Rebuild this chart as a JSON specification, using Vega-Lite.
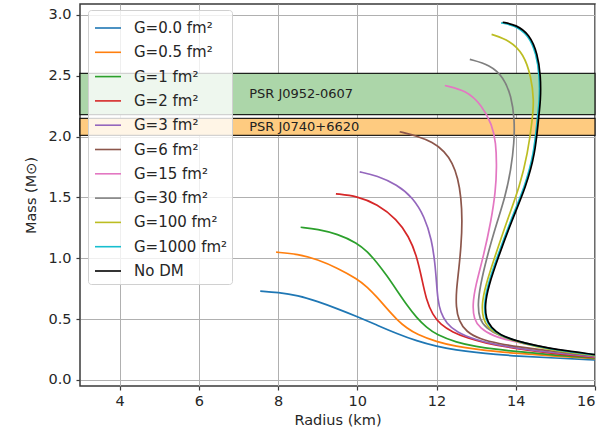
{
  "$schema": "https://vega.github.io/schema/vega-lite/v6.json",
  "autosize": {"type": "none"},
  "padding": {"left": 80, "top": 4, "right": 20, "bottom": 49},
  "width": 515,
  "height": 382,
  "background": "white",
  "config": {
    "font": "DejaVu Sans",
    "view": {"stroke": "#3a3a3a", "strokeWidth": 1.5},
    "axis": {
      "domain": false,
      "grid": true,
      "gridColor": "#b0b0b0",
      "gridWidth": 1,
      "tickColor": "#3a3a3a",
      "tickSize": 4,
      "tickWidth": 1.2,
      "labelFont": "DejaVu Sans",
      "labelFontSize": 14.5,
      "labelColor": "#262626",
      "titleFont": "DejaVu Sans",
      "titleFontSize": 14.5,
      "titleFontWeight": "normal",
      "titleColor": "#262626"
    }
  },
  "datasets": {
    "bands": [
      {"name": "PSR J0952-0607", "lo": 2.18, "hi": 2.52, "mid": 2.35},
      {"name": "PSR J0740+6620", "lo": 2.01, "hi": 2.15, "mid": 2.08}
    ],
    "curves": [
      {"s": "G=0.0 fm²", "i": 0, "r": 7.55, "m": 0.73},
      {"s": "G=0.0 fm²", "i": 1, "r": 8.0, "m": 0.72},
      {"s": "G=0.0 fm²", "i": 2, "r": 8.5, "m": 0.695},
      {"s": "G=0.0 fm²", "i": 3, "r": 9.0, "m": 0.645},
      {"s": "G=0.0 fm²", "i": 4, "r": 9.5, "m": 0.585},
      {"s": "G=0.0 fm²", "i": 5, "r": 10.0, "m": 0.52},
      {"s": "G=0.0 fm²", "i": 6, "r": 10.5, "m": 0.45},
      {"s": "G=0.0 fm²", "i": 7, "r": 11.0, "m": 0.38},
      {"s": "G=0.0 fm²", "i": 8, "r": 11.5, "m": 0.32},
      {"s": "G=0.0 fm²", "i": 9, "r": 12.0, "m": 0.275},
      {"s": "G=0.0 fm²", "i": 10, "r": 12.5, "m": 0.245},
      {"s": "G=0.0 fm²", "i": 11, "r": 13.0, "m": 0.225},
      {"s": "G=0.0 fm²", "i": 12, "r": 13.5, "m": 0.21},
      {"s": "G=0.0 fm²", "i": 13, "r": 14.0, "m": 0.197},
      {"s": "G=0.0 fm²", "i": 14, "r": 15.0, "m": 0.18},
      {"s": "G=0.0 fm²", "i": 15, "r": 16.0, "m": 0.165},

      {"s": "G=0.5 fm²", "i": 0, "r": 7.95, "m": 1.05},
      {"s": "G=0.5 fm²", "i": 1, "r": 8.5, "m": 1.035},
      {"s": "G=0.5 fm²", "i": 2, "r": 9.0, "m": 0.99},
      {"s": "G=0.5 fm²", "i": 3, "r": 9.5, "m": 0.92},
      {"s": "G=0.5 fm²", "i": 4, "r": 10.0, "m": 0.83},
      {"s": "G=0.5 fm²", "i": 5, "r": 10.25, "m": 0.765},
      {"s": "G=0.5 fm²", "i": 6, "r": 10.5, "m": 0.68},
      {"s": "G=0.5 fm²", "i": 7, "r": 10.75, "m": 0.585},
      {"s": "G=0.5 fm²", "i": 8, "r": 11.0, "m": 0.495},
      {"s": "G=0.5 fm²", "i": 9, "r": 11.25, "m": 0.425},
      {"s": "G=0.5 fm²", "i": 10, "r": 11.5, "m": 0.375},
      {"s": "G=0.5 fm²", "i": 11, "r": 12.0, "m": 0.312},
      {"s": "G=0.5 fm²", "i": 12, "r": 12.5, "m": 0.275},
      {"s": "G=0.5 fm²", "i": 13, "r": 13.0, "m": 0.252},
      {"s": "G=0.5 fm²", "i": 14, "r": 13.5, "m": 0.234},
      {"s": "G=0.5 fm²", "i": 15, "r": 14.0, "m": 0.219},
      {"s": "G=0.5 fm²", "i": 16, "r": 15.0, "m": 0.195},
      {"s": "G=0.5 fm²", "i": 17, "r": 16.0, "m": 0.175},

      {"s": "G=1 fm²", "i": 0, "r": 8.57, "m": 1.255},
      {"s": "G=1 fm²", "i": 1, "r": 9.0, "m": 1.24},
      {"s": "G=1 fm²", "i": 2, "r": 9.5, "m": 1.2},
      {"s": "G=1 fm²", "i": 3, "r": 10.0, "m": 1.125},
      {"s": "G=1 fm²", "i": 4, "r": 10.25, "m": 1.055},
      {"s": "G=1 fm²", "i": 5, "r": 10.5, "m": 0.965},
      {"s": "G=1 fm²", "i": 6, "r": 10.75, "m": 0.855},
      {"s": "G=1 fm²", "i": 7, "r": 11.0, "m": 0.735},
      {"s": "G=1 fm²", "i": 8, "r": 11.25, "m": 0.615},
      {"s": "G=1 fm²", "i": 9, "r": 11.5, "m": 0.51},
      {"s": "G=1 fm²", "i": 10, "r": 11.75, "m": 0.43},
      {"s": "G=1 fm²", "i": 11, "r": 12.0, "m": 0.372},
      {"s": "G=1 fm²", "i": 12, "r": 12.5, "m": 0.308},
      {"s": "G=1 fm²", "i": 13, "r": 13.0, "m": 0.274},
      {"s": "G=1 fm²", "i": 14, "r": 13.5, "m": 0.252},
      {"s": "G=1 fm²", "i": 15, "r": 14.0, "m": 0.234},
      {"s": "G=1 fm²", "i": 16, "r": 15.0, "m": 0.203},
      {"s": "G=1 fm²", "i": 17, "r": 16.0, "m": 0.18},

      {"s": "G=2 fm²", "i": 0, "r": 9.46, "m": 1.53},
      {"s": "G=2 fm²", "i": 1, "r": 10.0, "m": 1.51},
      {"s": "G=2 fm²", "i": 2, "r": 10.5, "m": 1.445},
      {"s": "G=2 fm²", "i": 3, "r": 11.0, "m": 1.32},
      {"s": "G=2 fm²", "i": 4, "r": 11.3, "m": 1.18},
      {"s": "G=2 fm²", "i": 5, "r": 11.5, "m": 1.02},
      {"s": "G=2 fm²", "i": 6, "r": 11.63, "m": 0.83},
      {"s": "G=2 fm²", "i": 7, "r": 11.74, "m": 0.66},
      {"s": "G=2 fm²", "i": 8, "r": 11.9, "m": 0.535},
      {"s": "G=2 fm²", "i": 9, "r": 12.1, "m": 0.455},
      {"s": "G=2 fm²", "i": 10, "r": 12.4, "m": 0.392},
      {"s": "G=2 fm²", "i": 11, "r": 12.8, "m": 0.342},
      {"s": "G=2 fm²", "i": 12, "r": 13.2, "m": 0.305},
      {"s": "G=2 fm²", "i": 13, "r": 14.0, "m": 0.256},
      {"s": "G=2 fm²", "i": 14, "r": 15.0, "m": 0.215},
      {"s": "G=2 fm²", "i": 15, "r": 16.0, "m": 0.185},

      {"s": "G=3 fm²", "i": 0, "r": 10.06, "m": 1.71},
      {"s": "G=3 fm²", "i": 1, "r": 10.5, "m": 1.68},
      {"s": "G=3 fm²", "i": 2, "r": 11.0, "m": 1.605},
      {"s": "G=3 fm²", "i": 3, "r": 11.4, "m": 1.5},
      {"s": "G=3 fm²", "i": 4, "r": 11.7, "m": 1.34},
      {"s": "G=3 fm²", "i": 5, "r": 11.88, "m": 1.15},
      {"s": "G=3 fm²", "i": 6, "r": 11.96, "m": 0.96},
      {"s": "G=3 fm²", "i": 7, "r": 12.0, "m": 0.8},
      {"s": "G=3 fm²", "i": 8, "r": 12.03, "m": 0.665},
      {"s": "G=3 fm²", "i": 9, "r": 12.1, "m": 0.555},
      {"s": "G=3 fm²", "i": 10, "r": 12.25, "m": 0.465},
      {"s": "G=3 fm²", "i": 11, "r": 12.5, "m": 0.393},
      {"s": "G=3 fm²", "i": 12, "r": 13.0, "m": 0.327},
      {"s": "G=3 fm²", "i": 13, "r": 13.5, "m": 0.29},
      {"s": "G=3 fm²", "i": 14, "r": 14.0, "m": 0.262},
      {"s": "G=3 fm²", "i": 15, "r": 15.0, "m": 0.222},
      {"s": "G=3 fm²", "i": 16, "r": 16.0, "m": 0.19},

      {"s": "G=6 fm²", "i": 0, "r": 11.07, "m": 2.04},
      {"s": "G=6 fm²", "i": 1, "r": 11.5, "m": 2.005},
      {"s": "G=6 fm²", "i": 2, "r": 11.9, "m": 1.955},
      {"s": "G=6 fm²", "i": 3, "r": 12.2, "m": 1.88},
      {"s": "G=6 fm²", "i": 4, "r": 12.4, "m": 1.785},
      {"s": "G=6 fm²", "i": 5, "r": 12.54, "m": 1.66},
      {"s": "G=6 fm²", "i": 6, "r": 12.62, "m": 1.5},
      {"s": "G=6 fm²", "i": 7, "r": 12.65, "m": 1.31},
      {"s": "G=6 fm²", "i": 8, "r": 12.62, "m": 1.1},
      {"s": "G=6 fm²", "i": 9, "r": 12.56, "m": 0.9},
      {"s": "G=6 fm²", "i": 10, "r": 12.5, "m": 0.74},
      {"s": "G=6 fm²", "i": 11, "r": 12.49, "m": 0.6},
      {"s": "G=6 fm²", "i": 12, "r": 12.56, "m": 0.485},
      {"s": "G=6 fm²", "i": 13, "r": 12.75, "m": 0.395},
      {"s": "G=6 fm²", "i": 14, "r": 13.1, "m": 0.335},
      {"s": "G=6 fm²", "i": 15, "r": 13.6, "m": 0.297},
      {"s": "G=6 fm²", "i": 16, "r": 14.0, "m": 0.275},
      {"s": "G=6 fm²", "i": 17, "r": 15.0, "m": 0.232},
      {"s": "G=6 fm²", "i": 18, "r": 16.0, "m": 0.198},

      {"s": "G=15 fm²", "i": 0, "r": 12.21, "m": 2.42},
      {"s": "G=15 fm²", "i": 1, "r": 12.75, "m": 2.38},
      {"s": "G=15 fm²", "i": 2, "r": 13.15, "m": 2.255},
      {"s": "G=15 fm²", "i": 3, "r": 13.4, "m": 2.1},
      {"s": "G=15 fm²", "i": 4, "r": 13.5, "m": 1.95},
      {"s": "G=15 fm²", "i": 5, "r": 13.52, "m": 1.75},
      {"s": "G=15 fm²", "i": 6, "r": 13.49, "m": 1.55},
      {"s": "G=15 fm²", "i": 7, "r": 13.38, "m": 1.31},
      {"s": "G=15 fm²", "i": 8, "r": 13.18, "m": 1.01},
      {"s": "G=15 fm²", "i": 9, "r": 12.98, "m": 0.77},
      {"s": "G=15 fm²", "i": 10, "r": 12.91, "m": 0.62},
      {"s": "G=15 fm²", "i": 11, "r": 12.94, "m": 0.5},
      {"s": "G=15 fm²", "i": 12, "r": 13.1, "m": 0.425},
      {"s": "G=15 fm²", "i": 13, "r": 13.4, "m": 0.362},
      {"s": "G=15 fm²", "i": 14, "r": 14.0, "m": 0.31},
      {"s": "G=15 fm²", "i": 15, "r": 15.0, "m": 0.25},
      {"s": "G=15 fm²", "i": 16, "r": 16.0, "m": 0.2},

      {"s": "G=30 fm²", "i": 0, "r": 12.84, "m": 2.635},
      {"s": "G=30 fm²", "i": 1, "r": 13.35, "m": 2.59},
      {"s": "G=30 fm²", "i": 2, "r": 13.69, "m": 2.49},
      {"s": "G=30 fm²", "i": 3, "r": 13.89, "m": 2.33},
      {"s": "G=30 fm²", "i": 4, "r": 13.97, "m": 2.14},
      {"s": "G=30 fm²", "i": 5, "r": 13.96, "m": 1.95},
      {"s": "G=30 fm²", "i": 6, "r": 13.88, "m": 1.73},
      {"s": "G=30 fm²", "i": 7, "r": 13.73, "m": 1.5},
      {"s": "G=30 fm²", "i": 8, "r": 13.53, "m": 1.3},
      {"s": "G=30 fm²", "i": 9, "r": 13.27, "m": 1.01},
      {"s": "G=30 fm²", "i": 10, "r": 13.1, "m": 0.77},
      {"s": "G=30 fm²", "i": 11, "r": 13.04, "m": 0.62},
      {"s": "G=30 fm²", "i": 12, "r": 13.08, "m": 0.5},
      {"s": "G=30 fm²", "i": 13, "r": 13.25, "m": 0.425},
      {"s": "G=30 fm²", "i": 14, "r": 13.6, "m": 0.362},
      {"s": "G=30 fm²", "i": 15, "r": 14.0, "m": 0.32},
      {"s": "G=30 fm²", "i": 16, "r": 15.0, "m": 0.245},
      {"s": "G=30 fm²", "i": 17, "r": 16.0, "m": 0.2},

      {"s": "G=100 fm²", "i": 0, "r": 13.39, "m": 2.84},
      {"s": "G=100 fm²", "i": 1, "r": 13.85, "m": 2.79},
      {"s": "G=100 fm²", "i": 2, "r": 14.2, "m": 2.68},
      {"s": "G=100 fm²", "i": 3, "r": 14.39, "m": 2.49},
      {"s": "G=100 fm²", "i": 4, "r": 14.46, "m": 2.3},
      {"s": "G=100 fm²", "i": 5, "r": 14.42, "m": 2.14},
      {"s": "G=100 fm²", "i": 6, "r": 14.3, "m": 1.86},
      {"s": "G=100 fm²", "i": 7, "r": 14.1, "m": 1.59},
      {"s": "G=100 fm²", "i": 8, "r": 13.78, "m": 1.31},
      {"s": "G=100 fm²", "i": 9, "r": 13.47, "m": 1.01},
      {"s": "G=100 fm²", "i": 10, "r": 13.23, "m": 0.77},
      {"s": "G=100 fm²", "i": 11, "r": 13.14, "m": 0.62},
      {"s": "G=100 fm²", "i": 12, "r": 13.17, "m": 0.5},
      {"s": "G=100 fm²", "i": 13, "r": 13.3, "m": 0.43},
      {"s": "G=100 fm²", "i": 14, "r": 13.55, "m": 0.37},
      {"s": "G=100 fm²", "i": 15, "r": 14.0, "m": 0.315},
      {"s": "G=100 fm²", "i": 16, "r": 14.5, "m": 0.275},
      {"s": "G=100 fm²", "i": 17, "r": 15.0, "m": 0.24},
      {"s": "G=100 fm²", "i": 18, "r": 16.0, "m": 0.2},

      {"s": "G=1000 fm²", "i": 0, "r": 13.63, "m": 2.935},
      {"s": "G=1000 fm²", "i": 1, "r": 13.97, "m": 2.915},
      {"s": "G=1000 fm²", "i": 2, "r": 14.32, "m": 2.835},
      {"s": "G=1000 fm²", "i": 3, "r": 14.52, "m": 2.68},
      {"s": "G=1000 fm²", "i": 4, "r": 14.6, "m": 2.5},
      {"s": "G=1000 fm²", "i": 5, "r": 14.6, "m": 2.3},
      {"s": "G=1000 fm²", "i": 6, "r": 14.54, "m": 2.14},
      {"s": "G=1000 fm²", "i": 7, "r": 14.46, "m": 1.86},
      {"s": "G=1000 fm²", "i": 8, "r": 14.23, "m": 1.59},
      {"s": "G=1000 fm²", "i": 9, "r": 13.87, "m": 1.31},
      {"s": "G=1000 fm²", "i": 10, "r": 13.53, "m": 1.01},
      {"s": "G=1000 fm²", "i": 11, "r": 13.28, "m": 0.77},
      {"s": "G=1000 fm²", "i": 12, "r": 13.2, "m": 0.62},
      {"s": "G=1000 fm²", "i": 13, "r": 13.23, "m": 0.5},
      {"s": "G=1000 fm²", "i": 14, "r": 13.36, "m": 0.43},
      {"s": "G=1000 fm²", "i": 15, "r": 13.58, "m": 0.37},
      {"s": "G=1000 fm²", "i": 16, "r": 14.0, "m": 0.32},
      {"s": "G=1000 fm²", "i": 17, "r": 14.5, "m": 0.28},
      {"s": "G=1000 fm²", "i": 18, "r": 15.0, "m": 0.245},
      {"s": "G=1000 fm²", "i": 19, "r": 16.0, "m": 0.205},

      {"s": "No DM", "i": 0, "r": 13.67, "m": 2.94},
      {"s": "No DM", "i": 1, "r": 14.0, "m": 2.92},
      {"s": "No DM", "i": 2, "r": 14.35, "m": 2.84},
      {"s": "No DM", "i": 3, "r": 14.55, "m": 2.68},
      {"s": "No DM", "i": 4, "r": 14.63, "m": 2.5},
      {"s": "No DM", "i": 5, "r": 14.63, "m": 2.3},
      {"s": "No DM", "i": 6, "r": 14.57, "m": 2.14},
      {"s": "No DM", "i": 7, "r": 14.49, "m": 1.86},
      {"s": "No DM", "i": 8, "r": 14.26, "m": 1.59},
      {"s": "No DM", "i": 9, "r": 13.9, "m": 1.31},
      {"s": "No DM", "i": 10, "r": 13.56, "m": 1.01},
      {"s": "No DM", "i": 11, "r": 13.31, "m": 0.77},
      {"s": "No DM", "i": 12, "r": 13.22, "m": 0.62},
      {"s": "No DM", "i": 13, "r": 13.25, "m": 0.5},
      {"s": "No DM", "i": 14, "r": 13.38, "m": 0.43},
      {"s": "No DM", "i": 15, "r": 13.6, "m": 0.37},
      {"s": "No DM", "i": 16, "r": 14.0, "m": 0.322},
      {"s": "No DM", "i": 17, "r": 14.5, "m": 0.282},
      {"s": "No DM", "i": 18, "r": 15.0, "m": 0.25},
      {"s": "No DM", "i": 19, "r": 16.0, "m": 0.208}
    ]
  },
  "layer": [
    {
      "data": {"name": "bands"},
      "mark": {"type": "rect", "stroke": "black", "strokeWidth": 1.3, "strokeOpacity": 0.85, "fillOpacity": 1},
      "encoding": {
        "x": {"datum": 3, "type": "quantitative"},
        "x2": {"datum": 16},
        "y": {"field": "lo", "type": "quantitative"},
        "y2": {"field": "hi"},
        "fill": {
          "field": "name",
          "type": "nominal",
          "scale": {"domain": ["PSR J0952-0607", "PSR J0740+6620"], "range": ["#acd6a9", "#fecb80"]},
          "legend": null
        }
      }
    },
    {
      "data": {"name": "bands"},
      "mark": {"type": "text", "align": "left", "baseline": "middle", "fontSize": 13, "color": "#222222", "font": "DejaVu Sans"},
      "encoding": {
        "x": {"datum": 7.27, "type": "quantitative"},
        "y": {"field": "mid", "type": "quantitative"},
        "text": {"field": "name"}
      }
    },
    {
      "data": {"name": "curves"},
      "mark": {"type": "line", "interpolate": "basis", "strokeWidth": 1.7, "clip": true},
      "encoding": {
        "x": {
          "field": "r",
          "type": "quantitative",
          "title": "Radius (km)",
          "scale": {"domain": [3, 16], "nice": false, "zero": false},
          "axis": {"values": [4, 6, 8, 10, 12, 14, 16], "format": "d", "labelPadding": 4, "titlePadding": 6}
        },
        "y": {
          "field": "m",
          "type": "quantitative",
          "title": "Mass (M⊙)",
          "scale": {"domain": [-0.05, 3.09], "nice": false, "zero": false},
          "axis": {"values": [0, 0.5, 1, 1.5, 2, 2.5, 3], "format": ".1f", "labelPadding": 5, "titlePadding": 9}
        },
        "order": {"field": "i", "type": "quantitative"},
        "color": {
          "field": "s",
          "type": "nominal",
          "sort": null,
          "scale": {
            "domain": ["G=0.0 fm²", "G=0.5 fm²", "G=1 fm²", "G=2 fm²", "G=3 fm²", "G=6 fm²", "G=15 fm²", "G=30 fm²", "G=100 fm²", "G=1000 fm²", "No DM"],
            "range": ["#1f77b4", "#ff7f0e", "#2ca02c", "#d62728", "#9467bd", "#8c564b", "#e377c2", "#7f7f7f", "#bcbd22", "#17becf", "#000000"]
          },
          "legend": {
            "title": null,
            "orient": "none",
            "legendX": 8,
            "legendY": 6,
            "symbolType": "stroke",
            "symbolSize": 676,
            "symbolStrokeWidth": 1.6,
            "symbolOffset": 2,
            "labelFontSize": 15,
            "labelFont": "DejaVu Sans",
            "labelColor": "#262626",
            "labelOffset": 12,
            "rowPadding": 2.3,
            "padding": 4,
            "fillColor": "rgba(255,255,255,0.8)",
            "strokeColor": "#d0d0d0",
            "cornerRadius": 3
          }
        }
      }
    }
  ]
}
